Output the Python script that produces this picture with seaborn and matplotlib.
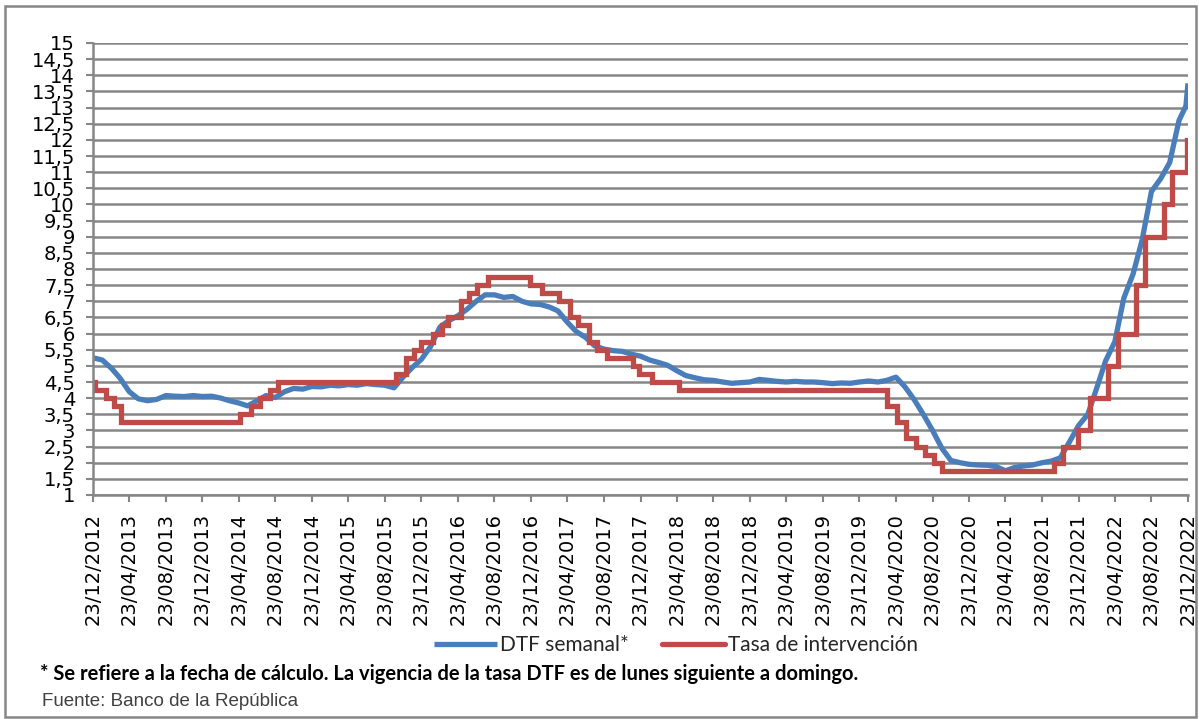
import matplotlib
matplotlib.use("Agg")
import matplotlib.pyplot as plt
import seaborn as sns
import pandas as pd
import numpy as np
from matplotlib.patches import Rectangle

# ---------------- data ----------------
# DTF semanal (one value per month on the 23rd, Dec-2012 .. Nov-2022)
dtf_valores = [
    5.25, 5.18, 4.92, 4.62, 4.20, 3.98, 3.92, 3.96, 4.08, 4.06, 4.05, 4.08,
    4.05, 4.06, 4.00, 3.92, 3.85, 3.76, 3.92, 4.08, 4.02, 4.20, 4.30, 4.28,
    4.36, 4.35, 4.40, 4.38, 4.42, 4.40, 4.45, 4.42, 4.40, 4.32, 4.65, 4.95,
    5.20, 5.60, 6.20, 6.40, 6.55, 6.75, 7.00, 7.20, 7.20, 7.12, 7.15, 7.00,
    6.92, 6.90, 6.82, 6.70, 6.35, 6.06, 5.88, 5.62, 5.52, 5.47, 5.45, 5.36,
    5.30, 5.18, 5.10, 5.02, 4.85, 4.70, 4.63, 4.57, 4.55, 4.50, 4.46, 4.48,
    4.50, 4.58, 4.55, 4.52, 4.50, 4.52, 4.50, 4.50, 4.48, 4.45, 4.47, 4.46,
    4.50, 4.53, 4.50, 4.55, 4.65, 4.35, 3.95, 3.50, 3.00, 2.45, 2.07, 2.00,
    1.95, 1.93, 1.92, 1.88, 1.75, 1.85, 1.90, 1.93, 2.00, 2.05, 2.15, 2.65,
    3.15, 3.50, 4.35, 5.15, 5.75, 7.10, 7.85, 8.90, 10.40, 10.80, 11.30, 12.60,
]
dtf_fin_fechas = ["2022-12-16", "2022-12-23"]
dtf_fin_valores = [13.05, 13.75]

# Tasa de intervención (Banco de la República), fechas de cambio
tasa_fechas = [
    "2012-12-23", "2012-12-31", "2013-02-04", "2013-03-04", "2013-03-28",
    "2014-04-28", "2014-06-02", "2014-07-02", "2014-08-04", "2014-09-02",
    "2015-09-28", "2015-11-03", "2015-11-30", "2015-12-21", "2016-02-01",
    "2016-02-29", "2016-03-22", "2016-05-02", "2016-05-31", "2016-06-27",
    "2016-08-01", "2016-12-19", "2017-01-30", "2017-03-27", "2017-05-02",
    "2017-05-29", "2017-07-04", "2017-07-31", "2017-09-01", "2017-11-27",
    "2017-12-18", "2018-01-29", "2018-04-30", "2020-03-25", "2020-04-28",
    "2020-05-27", "2020-06-29", "2020-07-30", "2020-08-28", "2020-09-25",
    "2021-10-01", "2021-11-01", "2021-12-20", "2022-01-31", "2022-04-01",
    "2022-05-02", "2022-07-01", "2022-08-01", "2022-10-03", "2022-10-31",
    "2022-12-19", "2022-12-23",
]
tasa_valores = [
    4.50, 4.25, 4.00, 3.75, 3.25,
    3.50, 3.75, 4.00, 4.25, 4.50,
    4.75, 5.25, 5.50, 5.75, 6.00,
    6.25, 6.50, 7.00, 7.25, 7.50,
    7.75, 7.50, 7.25, 7.00, 6.50,
    6.25, 5.75, 5.50, 5.25, 5.00,
    4.75, 4.50, 4.25, 3.75, 3.25,
    2.75, 2.50, 2.25, 2.00, 1.75,
    2.00, 2.50, 3.00, 4.00, 5.00,
    6.00, 7.50, 9.00, 10.00, 11.00,
    12.00, 12.00,
]

y_ticks = [1 + 0.5 * i for i in range(29)]
x_inicio, x_fin = "2012-12-23", "2022-12-23"
serie_dtf = "DTF semanal*"
serie_tasa = "Tasa de intervención"
nota = "* Se refiere a la fecha de cálculo. La vigencia de la tasa DTF es de lunes siguiente a domingo."
fuente = "Fuente: Banco de la República"

# ---------------- frames ----------------
dtf_fechas = list(pd.date_range("2012-12-01", periods=len(dtf_valores), freq="MS") + pd.Timedelta(days=22))
dtf = pd.DataFrame({
    "fecha": dtf_fechas + list(pd.to_datetime(dtf_fin_fechas)),
    "valor": dtf_valores + dtf_fin_valores,
})
tasa = pd.DataFrame({"fecha": pd.to_datetime(tasa_fechas), "valor": tasa_valores})

# ---------------- plot ----------------
sns.set_theme(style="white")
plt.rcParams["font.family"] = ["DejaVu Sans"]

W, H = 1199, 719
fig = plt.figure(figsize=(W / 100, H / 100), dpi=100)
left, right, top, bottom = 93, 1188, 43, 495
ax = fig.add_axes([left / W, 1 - bottom / H, (right - left) / W, (bottom - top) / H])

azul = "#4A7EBB"
rojo = "#BE4B48"
gris = "#868686"

sns.lineplot(data=dtf, x="fecha", y="valor", color=azul, lw=3.8, ax=ax,
             label=serie_dtf, solid_joinstyle="round", solid_capstyle="butt")
sns.lineplot(data=tasa, x="fecha", y="valor", color=rojo, lw=3.8, ax=ax,
             drawstyle="steps-post", label=serie_tasa, solid_joinstyle="miter")

ax.set_ylim(1, 15)
ax.set_xlim(pd.Timestamp(x_inicio), pd.Timestamp(x_fin))
ax.set_yticks(y_ticks)
ax.set_yticklabels([(f"{v:g}").replace(".", ",") for v in y_ticks])
xt = [pd.Timestamp(f"{2012 + (11 + 4 * k) // 12}-{(11 + 4 * k) % 12 + 1:02d}-23") for k in range(31)]
ax.set_xticks(xt)
ax.set_xticklabels([d.strftime("%d/%m/%Y") for d in xt], rotation=90)

ax.set_xlabel("")
ax.set_ylabel("")
ax.grid(axis="y", color=gris, lw=1.8)
ax.grid(axis="x", visible=False)
for s in ["top", "right"]:
    ax.spines[s].set_visible(False)
for s in ["left", "bottom"]:
    ax.spines[s].set_color(gris)
    ax.spines[s].set_linewidth(1.8)
ax.tick_params(axis="both", which="major", length=5, width=1.5, color=gris,
               labelsize=14, labelcolor="black", direction="out", left=True, bottom=True)
ax.tick_params(axis="y", pad=8)
ax.tick_params(axis="x", pad=8)

leg = ax.get_legend()
if leg is not None:
    leg.remove()
h, l = ax.get_legend_handles_labels()
fig.legend(h, l, loc="center", bbox_to_anchor=(676 / W, 1 - 645 / H), ncol=2,
           frameon=False, handlelength=3.0, columnspacing=1.6,
           handletextpad=0.15, prop={"family": ["Lato", "DejaVu Sans"], "size": 15})

fig.text(40 / W, 1 - 674 / H, nota, fontsize=14.5, fontweight="bold",
         family=["Lato", "DejaVu Sans"], va="center", ha="left", color="black")
fig.text(42 / W, 1 - 701 / H, fuente, fontsize=13.5,
         family=["Liberation Sans", "DejaVu Sans"], va="center", ha="left", color="#404040")

fig.patches.append(Rectangle((5 / W, 2 / H), (W - 8) / W, (H - 8) / H, transform=fig.transFigure,
                             fill=False, edgecolor=gris, lw=1.8))

fig.savefig("out.png", dpi=100)
